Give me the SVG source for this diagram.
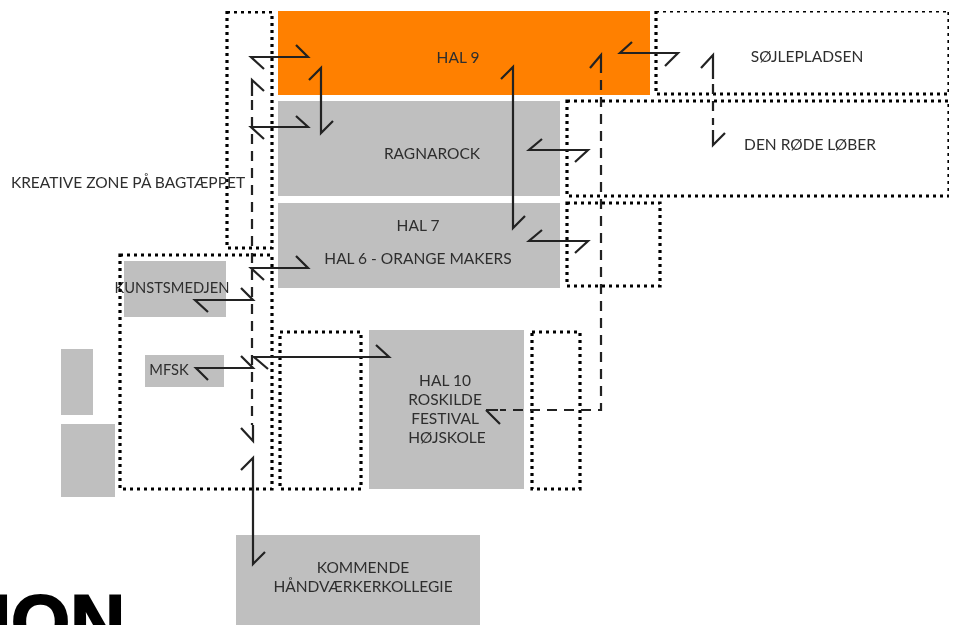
<svg xmlns="http://www.w3.org/2000/svg" width="954" height="625" viewBox="0 0 954 625">
<style>
.g{fill:#bfbfbf}
.d{fill:none;stroke:#000;stroke-width:3.2;stroke-dasharray:3 4}
.t{font-family:"Lato","Liberation Sans",sans-serif;font-size:15.5px;fill:#2e2e2e;text-anchor:middle}
.s{fill:none;stroke:#222;stroke-width:2.2}
.h{fill:none;stroke:#222;stroke-width:2.2;stroke-dasharray:10 7}
</style>
<defs><filter id="soft" x="0" y="0" width="100%" height="100%"><feGaussianBlur stdDeviation="0.4"/></filter></defs>
<rect width="954" height="625" fill="#fff"/>
<g filter="url(#soft)">
<g id="hal9"><rect x="278" y="11" width="372" height="84" fill="#ff8000"/><text class="t" x="458" y="63">HAL 9</text></g>
<g id="ragnarock"><rect class="g" x="278" y="101" width="282" height="95"/><text class="t" x="432" y="159">RAGNAROCK</text></g>
<g id="hal7"><rect class="g" x="278" y="203" width="282" height="85"/><text class="t" x="418" y="231">HAL 7</text><text class="t" x="418" y="264">HAL 6 - ORANGE MAKERS</text></g>
<g id="kunstsmedjen"><rect class="g" x="124" y="261" width="102" height="56"/><text class="t" x="172" y="293" style="font-size:14.7px">KUNSTSMEDJEN</text></g>
<g id="mfsk"><rect class="g" x="145" y="355" width="79" height="32"/><text class="t" x="169" y="375" style="font-size:14.7px">MFSK</text></g>
<g id="left1"><rect class="g" x="61" y="349" width="32" height="66"/></g>
<g id="left2"><rect class="g" x="61" y="424" width="54" height="73"/></g>
<g id="hal10"><rect class="g" x="369" y="330" width="155" height="159"/>
<text class="t" x="445" y="386">HAL 10</text><text class="t" x="445" y="405">ROSKILDE</text><text class="t" x="445" y="424">FESTIVAL</text><text class="t" x="447" y="443">HØJSKOLE</text></g>
<g id="kommende"><rect class="g" x="236" y="535" width="244" height="90"/><text class="t" x="363" y="573">KOMMENDE</text><text class="t" x="363" y="592">HÅNDVÆRKERKOLLEGIE</text></g>
<g id="kreative"><rect class="d" x="227" y="12" width="45" height="236"/><text class="t" x="128" y="188">KREATIVE ZONE PÅ BAGTÆPPET</text></g>
<g id="sojlepladsen"><rect class="d" x="656" y="11" width="293" height="83"/><text class="t" x="807" y="62">SØJLEPLADSEN</text></g>
<g id="denrode"><rect class="d" x="567" y="101" width="382" height="95"/><text class="t" x="810" y="150">DEN RØDE LØBER</text></g>
<g id="small"><rect class="d" x="567" y="203" width="93" height="83"/></g>
<g id="leftzone"><rect class="d" x="120" y="255" width="152" height="234"/></g>
<g id="midbox"><rect class="d" x="280" y="332" width="81" height="157"/></g>
<g id="rightbox"><rect class="d" x="532" y="332" width="48" height="157"/></g>
<g id="connectors">
<path class="s" d="M264 69L251 57H308L296 45"/>
<path class="s" d="M309 80L321 68V133L333 121"/>
<path class="s" d="M264 139L251 127H308L296 116"/>
<path class="s" d="M264 280L251 268H308L296 256"/>
<path class="s" d="M208 312L195 300H253L241 288"/>
<path class="s" d="M208 380L196 368H253L241 356"/>
<path class="s" d="M268 369L254 357H389L376 345"/>
<path class="s" d="M241 470L253 458V564L265 552"/>
<path class="s" d="M632 42L620 53H678L665 66"/>
<path class="s" d="M501 79L513 67V228L525 216"/>
<path class="s" d="M542 139L529 150H588L575 162"/>
<path class="s" d="M542 230L529 241H588L575 253"/>
<path class="h" d="M252 100V425"/>
<path class="s" d="M264 91L252 80V96M241 428L253 441V425"/>
<path class="h" d="M601 80V410H500"/>
<path class="s" d="M590 68L601 55V73M486 410H498M486 410L500 424"/>
<path class="h" d="M713 84V125"/>
<path class="s" d="M701 68L713 55V79M713 130V145L725 133"/>
</g>
<text id="cut-title" x="-10" y="648" font-family="Liberation Sans,sans-serif" font-weight="700" font-size="76" fill="#000" stroke="#000" stroke-width="2">ION</text>
</g>
</svg>
